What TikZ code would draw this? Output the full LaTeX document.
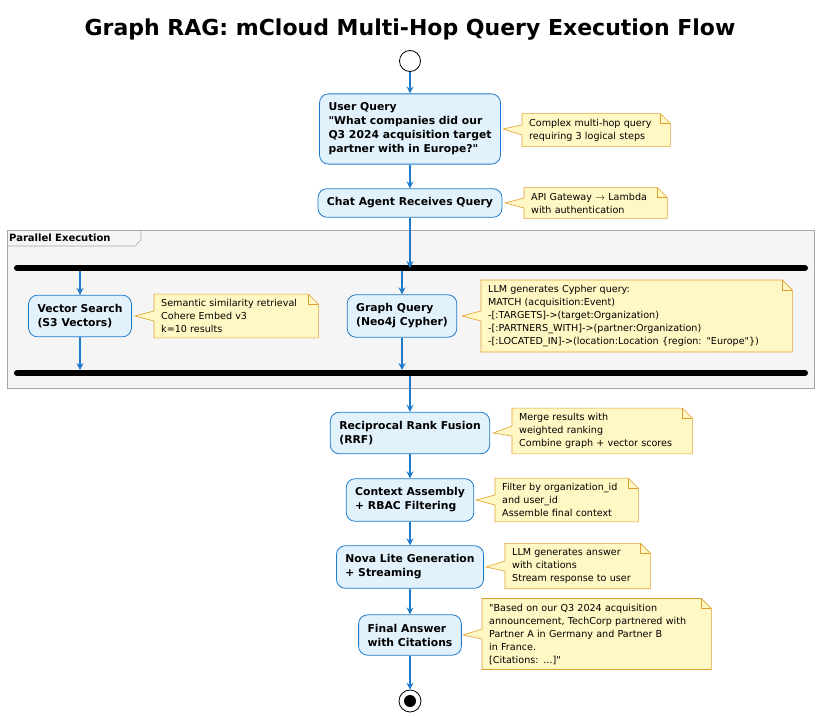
\documentclass[tikz,border=0pt]{standalone}
\usepackage{fontspec}
\setmainfont{DejaVu Sans}[Ligatures=TeXOff]
\usetikzlibrary{calc,arrows.meta,backgrounds}

\definecolor{actfill}{HTML}{E2F2FC}
\definecolor{actline}{HTML}{1F7BC9}
\definecolor{notefill}{HTML}{FFF8C4}
\definecolor{noteline}{HTML}{E0A030}
\definecolor{framefill}{HTML}{F5F5F5}
\newcommand{\dq}{\char34}

\tikzset{
	act/.style={rounded corners=9pt, fill=actfill, draw=actline, line width=0.8pt, inner xsep=9pt, inner ysep=9pt, align=left, font=\bfseries\fontsize{10.8}{14}\selectfont},
	note/.style={inner xsep=7pt, inner ysep=5pt, align=left, anchor=west, font=\fontsize{9.6}{13}\selectfont},
	flow/.style={draw=actline, line width=1.4pt, -{Stealth[length=7pt,width=7pt,inset=2.5pt]}},
	bar/.style={line width=6pt, line cap=round}
}

\begin{document}
\begin{tikzpicture}[x=1pt, y=-1pt]
		\useasboundingbox (0,0) rectangle (819,717);
		
		\node (title) at (410,30) {\bfseries\fontsize{22}{26}\selectfont Graph RAG: mCloud Multi-Hop Query Execution Flow};
		
		\node (start) at (410,61) [circle, draw, line width=0.8pt, fill=white, minimum size=21pt, inner sep=0pt] {};
		\node (query) at (410,129) [act] {User Query\\\dq What companies did our\\Q3 2024 acquisition target\\partner with in Europe?\dq};
		\node (agent) at (410,203) [act] {Chat Agent Receives Query};
		\node (plabel) at (9,238) [anchor=west, font=\bfseries\fontsize{10}{12}\selectfont, inner sep=0pt] {Parallel Execution};
		\coordinate (fork) at (410,268);
		\draw[bar] (17,268) -- (805,268);
		\node (vector) at (80,316) [act] {Vector Search\\(S3 Vectors)};
		\node (graph) at (402,316) [act] {Graph Query\\(Neo4j Cypher)};
		\draw[bar] (17,373) -- (805,373);
		\node (rrf) at (410,433) [act] {Reciprocal Rank Fusion\\(RRF)};
		\node (context) at (410,500) [act] {Context Assembly\\+ RBAC Filtering};
		\node (nova) at (410,567) [act] {Nova Lite Generation\\+ Streaming};
		\node (final) at (410,635) [act] {Final Answer\\with Citations};
		\node (stop) at (410,701) [circle, draw, line width=0.8pt, fill=white, minimum size=22pt, inner sep=0pt] {};
		\node (stopdot) at (410,701) [circle, fill=black, minimum size=12pt, inner sep=0pt] {};
		
		\draw[flow] (start) -- (query);
		\draw[flow] (query) -- (agent);
		\draw[flow] (agent) -- (fork);
		\draw[flow] (80,271) -- (vector);
		\draw[flow] (402,271) -- (graph);
		\draw[flow] (vector) -- (80,370);
		\draw[flow] (graph) -- (402,370);
		\draw[flow] (410,376) -- (rrf);
		\draw[flow] (rrf) -- (context);
		\draw[flow] (context) -- (nova);
		\draw[flow] (nova) -- (final);
		\draw[flow] (final) -- (stop);
		
		% notes
		\node (n1) at (522,130) [note, text width=134pt] {Complex multi-hop query\\requiring 3 logical steps};
		\node (n2) at (524,203) [note, text width=129pt] {API Gateway $\rightarrow$ Lambda\\with authentication};
		\node (n3) at (154,316) [note, text width=150pt] {Semantic similarity retrieval\\Cohere Embed v3\\k=10 results};
		\node (n4) at (481,316) [note, text width=297pt] {LLM generates Cypher query:\\MATCH (acquisition:Event)\\-[:TARGETS]->(target:Organization)\\-[:PARTNERS\_WITH]->(partner:Organization)\\-[:LOCATED\_IN]->(location:Location \{region: \dq Europe\dq\})};
		\node (n5) at (512,431) [note, text width=166pt] {Merge results with\\weighted ranking\\Combine graph + vector scores};
		\node (n6) at (495,500) [note, text width=129pt] {Filter by organization\_id\\and user\_id\\Assemble final context};
		\node (n7) at (505,566) [note, text width=131pt] {LLM generates answer\\with citations\\Stream response to user};
		\node (n8) at (482,634) [note, text width=215pt] {\dq Based on our Q3 2024 acquisition\\announcement, TechCorp partnered with\\Partner A in Germany and Partner B\\in France.\\{[}Citations: ...{]}\dq};
		
		\begin{scope}[on background layer]
			% parallel frame
			\draw[fill=framefill, draw=gray!70, line width=0.6pt] (7,230) rectangle (814,388);
			\draw[draw=gray!70, line width=0.6pt] (7,246) -- (135,246) -- (141,240) -- (141,230);
			\foreach \n/\a in {n1/query, n2/agent, n3/vector, n4/graph, n5/rrf, n6/context, n7/nova, n8/final} {
				\draw[fill=notefill, draw=noteline, line width=0.6pt]
					(\n.south west) -- ($(\n.west)+(0,5)$) -- (\a.east -| {$(\n.west)+(-19,0)$}) -- ($(\n.west)+(0,-5)$)
					-- (\n.north west) -- ([xshift=-10pt]\n.north east) -- ([yshift=-10pt]\n.north east) -- (\n.south east) -- cycle;
				\draw[draw=noteline, line width=0.6pt] ([xshift=-10pt]\n.north east) -- ([xshift=-10pt,yshift=-10pt]\n.north east) -- ([yshift=-10pt]\n.north east);
			}
		\end{scope}
\end{tikzpicture}
\end{document}
